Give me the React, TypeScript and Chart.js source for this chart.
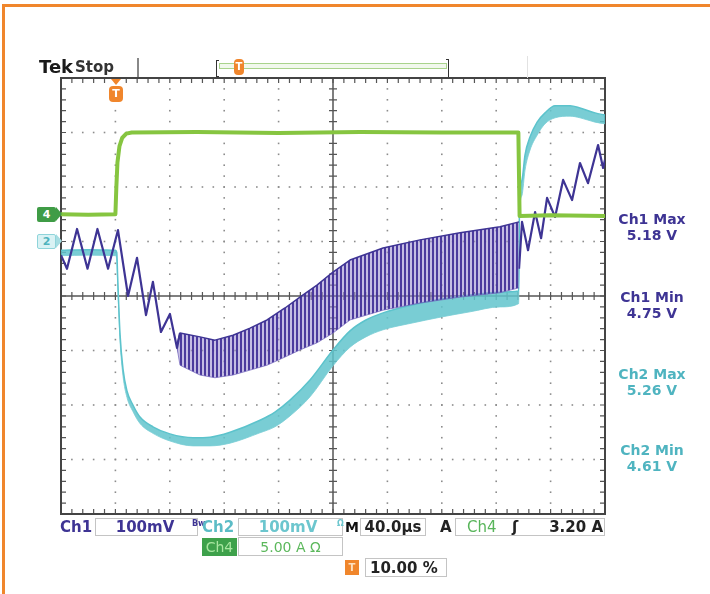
import React, { useEffect, useRef } from "react";
import { Chart, registerables } from "chart.js";
Chart.register(...registerables);

// Horizontal: time in µs (40 µs/div, trigger at 10 %). Vertical: screen divisions.
const timeMin = -40;
const timeMax = 360;
const usPerDiv = 40;
const divMin = -4;
const divMax = 4;

// Ch4 (current probe, green)
const ch4Time = [-40, -20, 0, 0.7, 1.5, 3, 5, 8, 12, 60, 120, 180, 240, 296.3, 297.2, 320, 360];
const ch4Div = [1.5, 1.49, 1.5, 2.0, 2.45, 2.75, 2.9, 2.98, 3.0, 3.01, 2.99, 3.01, 3.0, 3.0, 1.47, 1.48, 1.47];

// Ch2 (cyan) – upper / lower edge of the noisy trace
const ch2Time = [-40, -20, 0, 1.0, 1.6, 2.2, 3.4, 5.6, 8.5, 12.9, 18.1, 27.6, 40.1, 57.1, 69.6, 84.3, 106.3, 117.3, 128.4, 143.1, 160, 172.5, 184.2, 196.8, 217.4, 238.7, 260.8, 282.8, 296.5, 297.2, 299, 301.2, 304.9, 310.1, 315.9, 323.3, 334.3, 341.6, 352.7, 360];
const ch2Upper = [0.84, 0.85, 0.84, 0.8, 0.4, 0.0, -0.7, -1.34, -1.74, -2.0, -2.22, -2.4, -2.53, -2.6, -2.59, -2.5, -2.28, -2.13, -1.91, -1.54, -0.99, -0.64, -0.44, -0.31, -0.17, -0.06, 0.02, 0.07, 0.09, 1.76, 2.13, 2.59, 2.92, 3.19, 3.36, 3.49, 3.49, 3.45, 3.36, 3.32];
const ch2Lower = [0.74, 0.75, 0.74, 0.66, 0.25, -0.12, -0.82, -1.47, -1.86, -2.12, -2.34, -2.52, -2.66, -2.75, -2.75, -2.7, -2.51, -2.4, -2.2, -1.85, -1.28, -0.94, -0.75, -0.62, -0.5, -0.39, -0.29, -0.2, -0.14, 1.5, 1.85, 2.31, 2.68, 2.95, 3.16, 3.27, 3.3, 3.27, 3.19, 3.16];

// Ch1 (purple) – ripple before the dense section
const ch1StartTime = [-40, -35.6, -28.2, -20.5, -13.2, -5.4, 1.9, 9.3, 15.9, 22.5, 27.6, 33.5, 40.1, 45.3, 47.5];
const ch1StartDiv = [0.75, 0.5, 1.23, 0.5, 1.23, 0.5, 1.21, 0.0, 0.7, -0.35, 0.26, -0.66, -0.33, -0.95, -0.68];

// Ch1 dense ripple section – envelope
const ch1BandTime = [45.3, 47.5, 62.2, 73.2, 86.5, 99, 111.5, 124.7, 135.7, 148.2, 160, 172.5, 196.8, 224, 253.4, 282.8, 296.8];
const ch1BandUpper = [-0.9, -0.68, -0.75, -0.81, -0.72, -0.59, -0.44, -0.22, -0.02, 0.2, 0.44, 0.66, 0.88, 1.03, 1.16, 1.27, 1.36];
const ch1BandLower = [-0.95, -1.27, -1.45, -1.5, -1.45, -1.36, -1.27, -1.12, -0.99, -0.86, -0.68, -0.44, -0.26, -0.13, -0.02, 0.06, 0.15];

// Ch1 after the load step
const ch1EndTime = [296.8, 299, 303.4, 308.6, 313, 317.4, 323.3, 329.2, 335.8, 341.6, 347.5, 354.9, 358.6, 360];
const ch1EndDiv = [0.5, 1.36, 0.84, 1.54, 1.06, 1.8, 1.45, 2.13, 1.76, 2.44, 2.07, 2.77, 2.35, 2.5];

const measureNames = ["Ch1 Max", "Ch1 Min", "Ch2 Max", "Ch2 Min"];
const measureValues = ["5.18 V", "4.75 V", "5.26 V", "4.61 V"];

const CH1 = "#3e3494";
const CH2 = "#5cc3cc";
const CH4 = "#86c540";
const ORANGE = "#f0862c";

const pts = (xs: number[], ys: number[]) => xs.map((x, i) => ({ x, y: ys[i] }));

const graticule = {
  id: "graticule",
  beforeDatasetsDraw(chart: any) {
    const { ctx, chartArea: a, scales } = chart;
    const sx = scales.x;
    const sy = scales.y;
    ctx.save();
    // dotted division lines
    ctx.fillStyle = "#8c8c8c";
    for (let i = 1; i < 10; i++) {
      if (i === 5) continue;
      const px = sx.getPixelForValue(timeMin + i * usPerDiv);
      for (let j = 1; j < 40; j++) {
        const py = sy.getPixelForValue(divMin + j * 0.2);
        ctx.fillRect(px - 0.8, py - 0.8, 1.6, 1.6);
      }
    }
    for (let i = 1; i < 8; i++) {
      if (i === 4) continue;
      const py = sy.getPixelForValue(divMin + i);
      for (let j = 1; j < 50; j++) {
        const px = sx.getPixelForValue(timeMin + j * usPerDiv / 5);
        ctx.fillRect(px - 0.8, py - 0.8, 1.6, 1.6);
      }
    }
    // centre axes
    const cx = sx.getPixelForValue(timeMin + 5 * usPerDiv);
    const cy = sy.getPixelForValue(0);
    ctx.strokeStyle = "#555";
    ctx.lineWidth = 1.5;
    ctx.beginPath();
    ctx.moveTo(a.left, cy); ctx.lineTo(a.right, cy);
    ctx.moveTo(cx, a.top); ctx.lineTo(cx, a.bottom);
    ctx.stroke();
    ctx.lineWidth = 1.2;
    ctx.beginPath();
    for (let j = 1; j < 50; j++) {
      const px = sx.getPixelForValue(timeMin + j * usPerDiv / 5);
      ctx.moveTo(px, cy - 4); ctx.lineTo(px, cy + 4);
      ctx.moveTo(px, a.top); ctx.lineTo(px, a.top + 5);
      ctx.moveTo(px, a.bottom); ctx.lineTo(px, a.bottom - 5);
    }
    for (let j = 1; j < 40; j++) {
      const py = sy.getPixelForValue(divMin + j * 0.2);
      ctx.moveTo(cx - 4, py); ctx.lineTo(cx + 4, py);
      ctx.moveTo(a.left, py); ctx.lineTo(a.left + 5, py);
      ctx.moveTo(a.right, py); ctx.lineTo(a.right - 5, py);
    }
    ctx.stroke();
    // frame
    ctx.strokeStyle = "#444";
    ctx.lineWidth = 2;
    ctx.strokeRect(a.left, a.top, a.right - a.left, a.bottom - a.top);
    ctx.restore();
  },
};

function Txt(props: any) {
  const { x, y, w, align, color, size, weight, children, family } = props;
  return (
    <div
      style={{
        position: "absolute",
        left: x,
        top: y - 10,
        width: w,
        height: 20,
        lineHeight: "20px",
        textAlign: align || "left",
        color: color || "#222",
        fontSize: size || 14,
        fontWeight: weight || 700,
        fontFamily: family || "'DejaVu Sans', sans-serif",
        whiteSpace: "nowrap",
      }}
    >
      {children}
    </div>
  );
}

function Box(props: any) {
  const { x, y, w, h, bg, border } = props;
  return (
    <div
      style={{
        position: "absolute",
        left: x,
        top: y,
        width: w,
        height: h,
        boxSizing: "border-box",
        background: bg || "transparent",
        border: border || "1px solid #c4c4c4",
      }}
    />
  );
}

export default function App() {
  const ref = useRef<HTMLCanvasElement | null>(null);
  useEffect(() => {
    const canvas = ref.current;
    if (!canvas) return;
    const ctx = canvas.getContext("2d")!;
    const pc = document.createElement("canvas");
    pc.width = 4;
    pc.height = 2;
    const p = pc.getContext("2d")!;
    p.fillStyle = "rgba(150,135,205,0.55)";
    p.fillRect(0, 0, 4, 2);
    p.fillStyle = "rgba(66,48,152,0.92)";
    p.fillRect(0, 0, 2, 2);
    const pattern = ctx.createPattern(pc, "repeat");

    const chart = new Chart(canvas, {
      type: "line",
      data: {
        datasets: [
          { label: "Ch4", data: pts(ch4Time, ch4Div), borderColor: CH4, borderWidth: 4, order: 0, fill: false },
          { label: "Ch1", data: pts(ch1StartTime, ch1StartDiv), borderColor: CH1, borderWidth: 2.2, order: 1, fill: false },
          { label: "Ch1 upper", data: pts(ch1BandTime, ch1BandUpper), borderColor: CH1, borderWidth: 1.5, order: 1, fill: false },
          { label: "Ch1 lower", data: pts(ch1BandTime, ch1BandLower), borderColor: "rgba(110,95,185,0.7)", borderWidth: 1, order: 1, fill: { target: 2 }, backgroundColor: pattern as any },
          { label: "Ch1 end", data: pts(ch1EndTime, ch1EndDiv), borderColor: CH1, borderWidth: 2.2, order: 1, fill: false },
          { label: "Ch2 upper", data: pts(ch2Time, ch2Upper), borderColor: CH2, borderWidth: 1.5, order: 3, fill: false, cubicInterpolationMode: "monotone" },
          { label: "Ch2 lower", data: pts(ch2Time, ch2Lower), borderColor: "rgba(120,205,212,0.8)", borderWidth: 1, order: 3, fill: { target: 5 }, backgroundColor: "rgba(98,196,205,0.85)", cubicInterpolationMode: "monotone" },
        ] as any,
      },
      options: {
        animation: false,
        responsive: false,
        maintainAspectRatio: false,
        layout: { padding: { left: 61, top: 78, right: 105, bottom: 80 } },
        scales: {
          x: { type: "linear", min: timeMin, max: timeMax, display: false },
          y: { type: "linear", min: divMin, max: divMax, display: false },
        },
        elements: { point: { radius: 0 }, line: { tension: 0, borderJoinStyle: "round" } },
        plugins: { legend: { display: false }, tooltip: { enabled: false } },
      } as any,
      plugins: [graticule],
    });
    return () => chart.destroy();
  }, []);

  const measureY = [219, 297, 374, 450];
  return (
    <div style={{ position: "absolute", left: 0, top: 0, width: 710, height: 594, background: "#fff", overflow: "hidden" }}>
      <canvas ref={ref} width={710} height={594} style={{ position: "absolute", left: 0, top: 0, width: 710, height: 594 }} />
      {/* orange frame */}
      <div style={{ position: "absolute", left: 2, top: 4, width: 708, height: 3, background: ORANGE }} />
      <div style={{ position: "absolute", left: 2, top: 4, width: 3, height: 590, background: ORANGE }} />

      {/* header */}
      <Txt x={39} y={67} size={18} color="#1a1a1a">Tek</Txt>
      <Txt x={75} y={67} size={15} color="#333" weight={600}>Stop</Txt>
      <div style={{ position: "absolute", left: 137, top: 58, width: 1.5, height: 19, background: "#888" }} />
      <div style={{ position: "absolute", left: 216, top: 60, width: 3, height: 17, borderLeft: "1.5px solid #333", borderTop: "1.5px solid #333", borderBottom: "1.5px solid #333", boxSizing: "border-box" }} />
      <div style={{ position: "absolute", left: 219, top: 63, width: 228, height: 6, border: "1px solid #a9d38c", background: "#f1f8ec", boxSizing: "border-box" }} />
      <div style={{ position: "absolute", left: 446, top: 59, width: 3, height: 18, borderRight: "1.5px solid #333", borderTop: "1.5px solid #333", boxSizing: "border-box" }} />
      <div style={{ position: "absolute", left: 527, top: 56, width: 1, height: 22, background: "#e2e2e2" }} />
      <div style={{ position: "absolute", left: 234, top: 59, width: 10, height: 16, borderRadius: 4, background: ORANGE, color: "#fff", fontSize: 10, fontWeight: 700, lineHeight: "16px", textAlign: "center", fontFamily: "'DejaVu Sans', sans-serif" }}>T</div>

      {/* trigger position marker */}
      <div style={{ position: "absolute", left: 111, top: 79, width: 0, height: 0, borderLeft: "5px solid transparent", borderRight: "5px solid transparent", borderTop: `6px solid ${ORANGE}` }} />
      <div style={{ position: "absolute", left: 109, top: 86, width: 14, height: 16, borderRadius: 4, background: ORANGE, color: "#fff", fontSize: 11, fontWeight: 700, lineHeight: "16px", textAlign: "center", fontFamily: "'DejaVu Sans', sans-serif" }}>T</div>

      {/* channel ground markers */}
      <div style={{ position: "absolute", left: 37, top: 207, width: 19, height: 15, background: "#3f9c46", color: "#fff", fontSize: 11, fontWeight: 700, lineHeight: "15px", textAlign: "center", fontFamily: "'DejaVu Sans', sans-serif", borderRadius: 2 }}>4</div>
      <div style={{ position: "absolute", left: 56, top: 207, width: 0, height: 0, borderTop: "7.5px solid transparent", borderBottom: "7.5px solid transparent", borderLeft: "6px solid #3f9c46" }} />
      <div style={{ position: "absolute", left: 37, top: 234, width: 19, height: 15, background: "#d9f2f4", border: "1px solid #8fd4da", boxSizing: "border-box", color: "#4fb3bd", fontSize: 11, fontWeight: 700, lineHeight: "13px", textAlign: "center", fontFamily: "'DejaVu Sans', sans-serif", borderRadius: 2 }}>2</div>
      <div style={{ position: "absolute", left: 56, top: 234, width: 0, height: 0, borderTop: "7.5px solid transparent", borderBottom: "7.5px solid transparent", borderLeft: "6px solid #a6dde2" }} />

      {/* measurements */}
      {measureNames.map((n, i) => (
        <React.Fragment key={n}>
          <Txt x={600} y={measureY[i]} w={104} align="center" size={14} color={i < 2 ? CH1 : "#4fb4c0"}>{n}</Txt>
          <Txt x={600} y={measureY[i] + 16} w={104} align="center" size={14} color={i < 2 ? CH1 : "#4fb4c0"}>{measureValues[i]}</Txt>
        </React.Fragment>
      ))}

      {/* bottom readouts */}
      <Txt x={60} y={527} size={15} color={CH1}>Ch1</Txt>
      <Box x={95} y={518} w={103} h={18} />
      <Txt x={95} y={527} w={100} align="center" size={15} color={CH1}>100mV</Txt>
      <Txt x={192} y={524} size={8} color={CH1}>Bw</Txt>
      <Txt x={202} y={527} size={15} color="#5bbcc6">Ch2</Txt>
      <Box x={238} y={518} w={105} h={18} />
      <Txt x={238} y={527} w={100} align="center" size={15} color="#6cc6ce">100mV</Txt>
      <Txt x={337} y={524} size={8} color="#6cc6ce">Ω</Txt>
      <Txt x={345} y={527} size={14} color="#111">M</Txt>
      <Box x={360} y={518} w={66} h={18} />
      <Txt x={360} y={527} w={66} align="center" size={15} color="#222">40.0µs</Txt>
      <Txt x={440} y={527} size={15} color="#222">A</Txt>
      <Box x={455} y={518} w={150} h={18} />
      <Txt x={467} y={527} size={15} color="#58b55a" weight={400}>Ch4</Txt>
      <Txt x={512} y={527} size={15} color="#222">ʃ</Txt>
      <Txt x={455} y={527} w={148} align="right" size={15} color="#222">3.20 A</Txt>

      <div style={{ position: "absolute", left: 202, top: 538, width: 35, height: 18, background: "#3ea14b" }} />
      <Txt x={202} y={547} w={35} align="center" size={14} color="#a8e6a0" weight={400}>Ch4</Txt>
      <Box x={238} y={537} w={105} h={19} />
      <Txt x={238} y={547} w={105} align="center" size={14} color="#5cb85c" weight={400}>5.00 A Ω</Txt>

      <div style={{ position: "absolute", left: 345, top: 560, width: 14, height: 15, background: ORANGE, color: "#fde0c0", fontSize: 10, fontWeight: 700, lineHeight: "15px", textAlign: "center", fontFamily: "'DejaVu Sans', sans-serif" }}>T</div>
      <Box x={365} y={558} w={82} h={19} />
      <Txt x={370} y={568} size={15} color="#222">10.00 %</Txt>
    </div>
  );
}
